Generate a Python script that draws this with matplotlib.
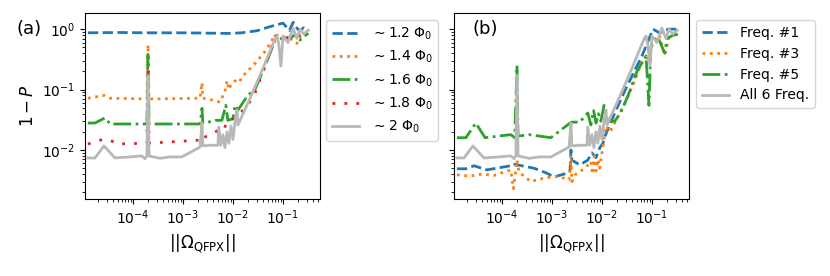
import matplotlib.pyplot as plt

# panel (a): flux amplitudes
x_a12 = [1.26e-5, 5e-5, 2e-4, 1e-3, 3e-3, 8e-3, 1.5e-2, 3e-2, 5.5e-2, 1e-1, 1.35e-1, 1.6e-1, 1.8e-1, 2.1e-1, 2.6e-1, 3.2e-1]
y_a12 = [0.87, 0.88, 0.87, 0.87, 0.86, 0.85, 0.87, 0.94, 1.1, 1.26, 0.95, 1.3, 1.1, 0.95, 1.05, 0.95]

x_a14 = [1.26e-5, 2.7e-5, 3.5e-5, 1.9e-4, 2.0e-4, 2.1e-4, 2.2e-3, 2.4e-3, 2.5e-3, 3.2e-3, 4.4e-3, 5.5e-3,
         6.9e-3, 7.6e-3, 8.3e-3, 9.1e-3, 1.1e-2, 1.3e-2, 1.6e-2, 2.75e-2, 4.4e-2, 7e-2, 0.1, 0.14, 0.19, 0.22, 0.32]
y_a14 = [0.072, 0.08, 0.072, 0.07, 0.55, 0.07, 0.072, 0.13, 0.072, 0.07, 0.065, 0.062,
         0.094, 0.14, 0.1, 0.12, 0.14, 0.13, 0.17, 0.27, 0.43, 0.8, 0.75, 0.7, 0.58, 0.75, 0.85]

x_a16 = [1.26e-5, 1.74e-5, 2.76e-5, 3.5e-5, 1.4e-4, 1.9e-4, 2.0e-4, 2.1e-4, 2.2e-3, 2.4e-3, 2.5e-3, 3.2e-3,
         4.4e-3, 6.0e-3, 7.2e-3, 7.9e-3, 1e-2, 1.1e-2, 1.26e-2, 2.0e-2, 2.75e-2, 4.4e-2, 7e-2, 0.1, 0.137, 0.17, 0.22, 0.32]
y_a16 = [0.028, 0.028, 0.034, 0.027, 0.027, 0.027, 0.37, 0.027, 0.027, 0.049, 0.028, 0.029,
         0.031, 0.031, 0.055, 0.031, 0.033, 0.055, 0.046, 0.081, 0.1, 0.25, 0.66, 0.71, 0.7, 0.8, 0.66, 0.86]

x_a18 = [1.26e-5, 2.5e-5, 3.5e-5, 5e-5, 1.9e-4, 2.0e-4, 2.1e-4, 2.2e-3, 2.4e-3, 2.6e-3, 5e-3, 6.5e-3,
         7.6e-3, 1e-2, 1.3e-2, 1.8e-2, 2.75e-2, 4.4e-2, 7e-2, 0.1, 0.15, 0.32]
y_a18 = [0.0126, 0.015, 0.0145, 0.0126, 0.013, 0.2, 0.013, 0.0146, 0.017, 0.016, 0.021, 0.021,
         0.03, 0.033, 0.04, 0.049, 0.087, 0.245, 0.77, 0.7, 0.75, 0.85]

# grey curve (all frequencies, ~2 Phi0), same in both panels
x_all = [1.26e-5, 1.74e-5, 2.63e-5, 4.37e-5, 8.7e-5, 1.5e-4, 1.74e-4, 1.9e-4, 2.0e-4, 2.1e-4, 2.4e-4, 3.5e-4,
         5.5e-4, 9.5e-4, 2.2e-3, 2.4e-3, 2.5e-3, 3.5e-3, 5.0e-3, 5.2e-3, 5.7e-3, 6.3e-3, 6.9e-3, 7.6e-3,
         8.3e-3, 9.1e-3, 1.0e-2, 1.1e-2, 1.2e-2, 1.26e-2, 2.2e-2, 4.0e-2, 7.0e-2, 7.6e-2, 8.3e-2, 9.1e-2,
         1.0e-1, 1.26e-1, 1.58e-1, 1.9e-1, 2.2e-1, 2.6e-1, 3.2e-1]
y_all = [0.0074, 0.0074, 0.0117, 0.0074, 0.0077, 0.008, 0.0072, 0.008, 0.17, 0.008, 0.0078, 0.0073,
         0.0077, 0.0077, 0.0112, 0.028, 0.0117, 0.012, 0.012, 0.024, 0.012, 0.018, 0.011, 0.02,
         0.013, 0.025, 0.015, 0.03, 0.046, 0.026, 0.072, 0.227, 0.7, 0.77, 0.54, 0.245,
         0.77, 0.6, 1.04, 0.7, 1.0, 0.83, 0.96]

# panel (b): single frequencies
x_f1 = [1.26e-5, 1.9e-5, 2.76e-5, 5e-5, 1.5e-4, 1.66e-4, 2e-4, 4.4e-4, 7.6e-4, 1.1e-3, 1.74e-3, 2.3e-3,
        2.4e-3, 2.5e-3, 3.6e-3, 5.2e-3, 6.3e-3, 7.6e-3, 9.1e-3, 1.05e-2, 1.15e-2, 1.8e-2, 2.9e-2, 6.3e-2,
        0.105, 0.145, 0.21, 0.33]
y_f1 = [0.0049, 0.0049, 0.0055, 0.0047, 0.0055, 0.0059, 0.0057, 0.005, 0.0042, 0.0036, 0.004, 0.0045,
        0.01, 0.0068, 0.0057, 0.0068, 0.009, 0.0075, 0.011, 0.013, 0.017, 0.041, 0.098, 0.36,
        1.0, 0.86, 1.0, 1.0]

x_f3 = [1.26e-5, 2.3e-5, 4e-5, 6.9e-5, 1.5e-4, 1.7e-4, 1.8e-4, 2.0e-4, 2.2e-4, 3.8e-4, 5.5e-4, 8e-4,
        1.3e-3, 2.2e-3, 2.4e-3, 2.5e-3, 3.0e-3, 4.6e-3, 6e-3, 6.5e-3, 7e-3, 7.6e-3, 8.3e-3, 9e-3, 1e-2,
        1.2e-2, 1.45e-2, 2.9e-2, 4.5e-2, 6.5e-2, 0.09, 0.1, 0.14, 0.18, 0.22, 0.33]
y_f3 = [0.0039, 0.0037, 0.004, 0.0038, 0.0047, 0.0023, 0.0032, 0.0068, 0.0043, 0.003, 0.0033, 0.0035,
        0.0037, 0.0032, 0.0083, 0.003, 0.004, 0.005, 0.0065, 0.004, 0.008, 0.0045, 0.007, 0.005, 0.009,
        0.025, 0.02, 0.06, 0.14, 0.3, 0.35, 0.6, 0.8, 0.37, 0.75, 0.85]

x_f5 = [1.26e-5, 1.9e-5, 3.0e-5, 4.6e-5, 1.5e-4, 1.8e-4, 2e-4, 2.1e-4, 3.5e-4, 9.5e-4, 2.3e-3, 2.5e-3,
        3.6e-3, 5.2e-3, 6e-3, 6.8e-3, 7.6e-3, 8.5e-3, 9.5e-3, 1.1e-2, 1.3e-2, 1.8e-2, 2.3e-2, 3.3e-2,
        5e-2, 7.6e-2, 0.087, 0.095, 0.13, 0.18, 0.2, 0.27, 0.33]
y_f5 = [0.016, 0.016, 0.028, 0.016, 0.018, 0.016, 0.25, 0.017, 0.018, 0.016, 0.028, 0.029,
        0.029, 0.041, 0.026, 0.045, 0.028, 0.04, 0.03, 0.055, 0.03, 0.03, 0.04, 0.078,
        0.2, 0.36, 0.055, 0.5, 0.75, 0.4, 0.7, 0.8, 0.82]

grey = '0.72'
lw = 2

fig = plt.figure(figsize=(8.3, 2.76), dpi=100)
ax1 = fig.add_axes([85/830, 77/276, 235/830, 186/276])
ax2 = fig.add_axes([454/830, 77/276, 235/830, 186/276])

ax1.plot(x_a12, y_a12, '--', color='C0', lw=lw, label=r'$\sim$1.2 $\Phi_0$')
ax1.plot(x_a14, y_a14, ':', color='C1', lw=lw, label=r'$\sim$1.4 $\Phi_0$')
ax1.plot(x_a16, y_a16, '-.', color='C2', lw=lw, label=r'$\sim$1.6 $\Phi_0$')
ax1.plot(x_a18, y_a18, linestyle=(0, (1, 3.3)), color='C3', lw=lw, label=r'$\sim$1.8 $\Phi_0$')
ax1.plot(x_all, y_all, '-', color=grey, lw=lw, label=r'$\sim$2 $\Phi_0$')

ax2.plot(x_f1, y_f1, '--', color='C0', lw=lw, label='Freq. #1')
ax2.plot(x_f3, y_f3, ':', color='C1', lw=lw, label='Freq. #3')
ax2.plot(x_f5, y_f5, '-.', color='C2', lw=lw, label='Freq. #5')
ax2.plot(x_all, y_all, '-', color=grey, lw=lw, label='All 6 Freq.')

for ax in (ax1, ax2):
    ax.set_xscale('log')
    ax.set_yscale('log')
    ax.set_xlim(1.1e-5, 0.55)
    ax.set_ylim(1.55e-3, 1.85)
    ax.set_xticks([1e-4, 1e-3, 1e-2, 1e-1])
    ax.tick_params(labelsize=10)
    ax.set_xlabel(r'$||\Omega_{\mathrm{QFPX}}||$', fontsize=12)

ax2.tick_params(axis='y', which='both', labelleft=False)
ax1.set_ylabel(r'$1-P$', fontsize=12)

ax1.text(-0.29, 0.915, '(a)', transform=ax1.transAxes, fontsize=13, va='center')
ax2.text(0.077, 0.915, '(b)', transform=ax2.transAxes, fontsize=13, va='center')

ax1.legend(loc='upper left', bbox_to_anchor=(1.026, 0.962), borderaxespad=0, fontsize=10)
ax2.legend(loc='upper left', bbox_to_anchor=(1.03, 0.962), borderaxespad=0, fontsize=10)

plt.savefig('out.png', dpi=100)
